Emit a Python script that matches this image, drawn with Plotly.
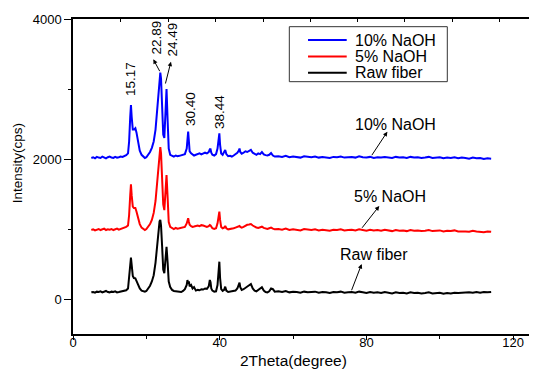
import plotly.graph_objects as go

# ---------------- data ----------------
two_theta = [
    5, 5.5, 6, 6.5, 7, 7.5, 8, 8.5, 9, 9.5, 10, 10.5, 11, 11.5, 12, 12.5, 13, 13.5, 14, 14.5,
    15, 15.3, 15.6, 15.8, 16, 16.3, 16.6, 17, 17.3, 17.7, 18.2, 18.7, 19.2, 19.6, 20, 20.5, 21, 21.5, 22, 22.5,
    22.9, 23.3, 23.6, 23.8, 24, 24.3, 24.6, 24.9, 25.2, 25.5, 25.8, 26.1, 26.5,
    27, 27.5, 28, 28.5, 29, 29.5, 30, 30.5, 31, 31.2, 31.4, 31.6, 31.8, 32.2, 32.6, 33, 33.5, 34,
    34.5, 35, 35.5, 36, 36.5, 37, 37.3, 37.5, 37.7, 38, 38.5, 39, 39.4, 39.7, 39.9, 40.1, 40.4, 40.8,
    41.2, 41.5, 41.8, 42.3,
    42.8, 43.3, 43.8, 44.3, 44.8, 45.2, 45.4, 45.6, 46, 46.5, 47, 47.5, 48, 48.5, 49, 49.5, 50, 50.5,
    51, 51.5, 52, 52.5, 53, 53.5, 54, 54.5, 55,
    56, 57, 58, 59, 60, 61, 62, 63, 64, 65,
    66, 67, 68, 69, 70, 71, 72, 73, 74, 75,
    76, 77, 78, 79, 80, 81, 82, 83, 84, 85,
    86, 87, 88, 89, 90, 91, 92, 93, 94, 95,
    96, 97, 98, 99, 100, 101, 102, 103, 104, 105,
    106, 107, 108, 109, 110, 111, 112, 113, 114,
]

naoh10 = [
    2015, 2025, 2010, 2030, 2020, 2015, 2035, 2020, 2010, 2025, 2035, 2020, 2015, 2030, 2020, 2025, 2035, 2030, 2040, 2055,
    2080, 2250, 2600, 2770, 2600, 2420, 2420, 2440, 2380, 2250, 2120, 2060, 2030, 2014, 2025, 2060, 2100, 2160, 2250, 2420,
    2680, 2980, 3180, 3233, 3150, 2750, 2350, 2300, 2600, 3000, 2550, 2150, 2060,
    2045, 2035, 2050, 2040, 2045, 2050, 2055, 2070, 2150, 2300, 2390, 2250, 2110, 2080, 2065, 2050, 2060, 2070,
    2080, 2065, 2075, 2090, 2080, 2100, 2140, 2140, 2090, 2060, 2050, 2070, 2150, 2330, 2367, 2200, 2080, 2060,
    2090, 2130, 2070, 2040,
    2045, 2035, 2050, 2070, 2090, 2120, 2150, 2100, 2075, 2090, 2110, 2100, 2120, 2130, 2090, 2075, 2060, 2080,
    2070, 2100, 2065, 2055, 2050, 2060, 2085, 2050, 2035,
    2040, 2030, 2045, 2025, 2035, 2030, 2020, 2040, 2030, 2025,
    2035, 2020, 2030, 2025, 2015, 2030, 2025, 2035, 2020, 2025,
    2030, 2020, 2040, 2025, 2020, 2030, 2015, 2025, 2020, 2030,
    2025, 2015, 2030, 2020, 2025, 2015, 2030, 2020, 2025, 2015,
    2020, 2030, 2015, 2020, 2025, 2010, 2020, 2015, 2025, 2010,
    2020, 2015, 2005, 2020, 2010, 2015, 2000, 2010, 2005,
]

naoh5 = [
    985, 995, 980, 990, 1000, 985, 990, 1005, 985, 995, 990, 1000, 985, 995, 1005, 990, 1000, 1010, 1015, 1030,
    1050, 1200, 1480, 1640, 1480, 1320, 1300, 1300, 1250, 1160, 1070, 1020, 995, 986, 1000, 1030, 1070, 1130, 1230, 1400,
    1650, 1950, 2130, 2170, 2080, 1700, 1350, 1270, 1500, 1770, 1450, 1100, 1030,
    1010, 1000, 1015, 1005, 1010, 1015, 1020, 1030, 1080, 1140, 1153, 1100, 1060, 1040, 1030, 1035, 1045, 1050,
    1040, 1055, 1050, 1040, 1030, 1040, 1057, 1050, 1030, 1010, 1000, 1010, 1080, 1220, 1247, 1130, 1030, 1010,
    1020, 1043, 1010, 995,
    1000, 995, 1010, 1020, 1030, 1035, 1043, 1030, 1020, 1030, 1050, 1060, 1065, 1071, 1050, 1030, 1020, 1015,
    1025, 1033, 1015, 1005, 1000, 1010, 1020, 1005, 995,
    1000, 990, 1005, 985, 995, 990, 980, 1000, 990, 985,
    995, 980, 990, 985, 975, 990, 985, 995, 980, 985,
    990, 980, 995, 985, 975, 990, 980, 985, 975, 990,
    980, 970, 985, 975, 980, 970, 985, 975, 980, 970,
    975, 985, 970, 975, 980, 965, 975, 970, 980, 965,
    970, 965, 960, 975, 965, 960, 955, 965, 960,
]

raw_fiber = [
    95, 100, 90, 105, 100, 110, 95, 100, 115, 100, 95, 105, 100, 110, 95, 100, 105, 110, 115, 125,
    150, 280, 480, 590, 480, 330, 300, 296, 260, 200, 150, 120, 105, 104, 115, 150, 190, 250, 340, 520,
    760, 1000, 1110, 1129, 1050, 750, 420, 370, 550, 747, 520, 250, 170,
    130, 115, 110, 105, 110, 100, 115, 140, 200, 271, 220, 250, 180, 200, 150, 170, 120, 130,
    125, 140, 135, 150, 145, 180, 271, 240, 150, 120, 105, 110, 200, 480, 533, 300, 140, 115,
    130, 176, 120, 100,
    105, 100, 110, 120, 150, 200, 233, 170, 130, 140, 160, 180, 200, 214, 150, 120, 110, 125,
    140, 167, 120, 100, 95, 110, 150, 140, 105,
    110, 100, 115, 95, 105, 100, 90, 105, 95, 100,
    105, 90, 100, 95, 85, 100, 95, 105, 90, 95,
    100, 90, 105, 95, 85, 100, 90, 95, 85, 100,
    90, 80, 95, 85, 90, 80, 95, 85, 90, 80,
    85, 95, 80, 85, 90, 75, 85, 80, 90, 85,
    90, 85, 95, 90, 100, 90, 100, 95, 100,
]

series_names = ["10% NaOH", "5% NaOH", "Raw fiber"]
series_colors = ["#0000FF", "#FF0000", "#000000"]
series_values = [naoh10, naoh5, raw_fiber]

peak_labels = ["15.17", "22.89", "24.49", "30.40", "38.44"]

x_ticks = [0, 40, 80, 120]
y_ticks = [0, 2000, 4000]

for s in series_values:
    assert len(s) == len(two_theta), (len(s), len(two_theta))

FONT = "Liberation Sans, Arial, sans-serif"

fig = go.Figure()
for name, col, vals in zip(series_names, series_colors, series_values):
    fig.add_trace(go.Scatter(x=two_theta, y=vals, mode="lines", name=name,
                             line=dict(color=col, width=2), showlegend=False))

# invisible trace to activate the top axis
fig.add_trace(go.Scatter(x=[None], y=[None], xaxis="x2", yaxis="y", showlegend=False))

anns = []
# peak labels (rotated)
peak_pos = [(15.8, 3143), (22.8, 3729), (27.1, 3714), (31.9, 2714), (39.9, 2676)]
for t, (px, py) in zip(peak_labels, peak_pos):
    anns.append(dict(x=px, y=py, xref="x", yref="y", text=t, showarrow=False, textangle=-90,
                     font=dict(family=FONT, size=13.5, color="black"),
                     xanchor="center", yanchor="middle"))
# arrows for 22.89 / 24.49
for (hx, hy, tx, ty) in [(21.9, 3424, 23.86, 3233), (26.7, 3390, 25.1, 3057)]:
    anns.append(dict(x=hx, y=hy, ax=tx, ay=ty, xref="x", yref="y", axref="x", ayref="y",
                     text="", showarrow=True, arrowhead=2, arrowsize=0.9, arrowwidth=1,
                     arrowcolor="black", standoff=0, startstandoff=0))

# curve labels with arrows
curve_lab = [
    ("10% NaOH", 87.8, 2500, 85.7, 2390, 81.2, 2033),
    ("5% NaOH", 86.5, 1461, 83.5, 1329, 78.5, 996),
    ("Raw fiber", 82.1, 629, 78.7, 500, 75.8, 104),
]
for t, lx, ly, hx, hy, tx, ty in curve_lab:
    anns.append(dict(x=lx, y=ly, xref="x", yref="y", text=t, showarrow=False,
                     font=dict(family=FONT, size=16, color="black"),
                     xanchor="center", yanchor="middle"))
    anns.append(dict(x=hx, y=hy, ax=tx, ay=ty, xref="x", yref="y", axref="x", ayref="y",
                     text="", showarrow=True, arrowhead=2, arrowsize=0.9, arrowwidth=1,
                     arrowcolor="black", standoff=0, startstandoff=0))

# axis titles
anns.append(dict(x=0.4757, y=-0.0857, xref="paper", yref="paper", text="2Theta(degree)",
                 showarrow=False, font=dict(family=FONT, size=15.5, color="black"),
                 xanchor="center", yanchor="middle"))
anns.append(dict(x=-0.118, y=0.543, xref="paper", yref="paper", text="Intensity(cps)",
                 showarrow=False, textangle=-90, font=dict(family=FONT, size=13.5, color="black"),
                 xanchor="center", yanchor="middle"))

# legend (drawn)
shapes = [dict(type="rect", xref="paper", yref="paper", x0=0.4662, x1=0.8067, y0=0.801, y1=0.9756,
               line=dict(color="#333333", width=1), fillcolor="white", layer="above")]
leg_rows = [0.9333, 0.8810, 0.8295]
for name, col, yr in zip(series_names, series_colors, leg_rows):
    shapes.append(dict(type="line", xref="paper", yref="paper", x0=0.5065, x1=0.5899, y0=yr, y1=yr,
                       line=dict(color=col, width=2), layer="above"))
    anns.append(dict(x=0.6028, y=yr, xref="paper", yref="paper", text=name, showarrow=False,
                     font=dict(family=FONT, size=16, color="black"), xanchor="left", yanchor="middle"))

# the page body adds an 8 px offset, so the figure is 8 px smaller than the window
fig.update_layout(
    width=529, height=362,
    margin=dict(l=65, r=0, t=11, b=36, autoexpand=False),
    paper_bgcolor="white", plot_bgcolor="white",
    font=dict(family=FONT, size=13, color="black"),
    annotations=anns, shapes=shapes,
    xaxis=dict(range=[0, 126.5], tickvals=x_ticks, ticks="outside", ticklen=4, tickwidth=1.3,
               showline=True, linecolor="black", linewidth=1.5, showgrid=False, zeroline=False,
               tickfont=dict(family=FONT, size=13, color="black"), ticklabelstandoff=-8,
               minor=dict(tickvals=[20, 60, 100], ticks="outside", ticklen=3, tickwidth=1.3,
                          tickcolor="black"), tickcolor="black"),
    xaxis2=dict(range=[0, 126.5], overlaying="x", side="top", showline=True, linecolor="black",
                linewidth=1.5, ticks="inside", ticklen=3, tickwidth=1.3, tickcolor="black",
                tickvals=[13.06, 25.98, 38.9, 51.8, 64.7, 77.6, 90.5, 103.4, 116.3],
                showticklabels=False, showgrid=False, zeroline=False),
    yaxis=dict(range=[-500, 4000], tickvals=y_ticks, ticks="outside", ticklen=7, tickwidth=1.3,
               showline=True, linecolor="black", linewidth=1.5, showgrid=False, zeroline=False,
               tickcolor="black", tickfont=dict(family=FONT, size=13, color="black"),
               minor=dict(tickvals=[1000, 3000], ticks="outside", ticklen=3, tickwidth=1.3,
                          tickcolor="black")),
    showlegend=False,
)

fig.write_html("out.html")
